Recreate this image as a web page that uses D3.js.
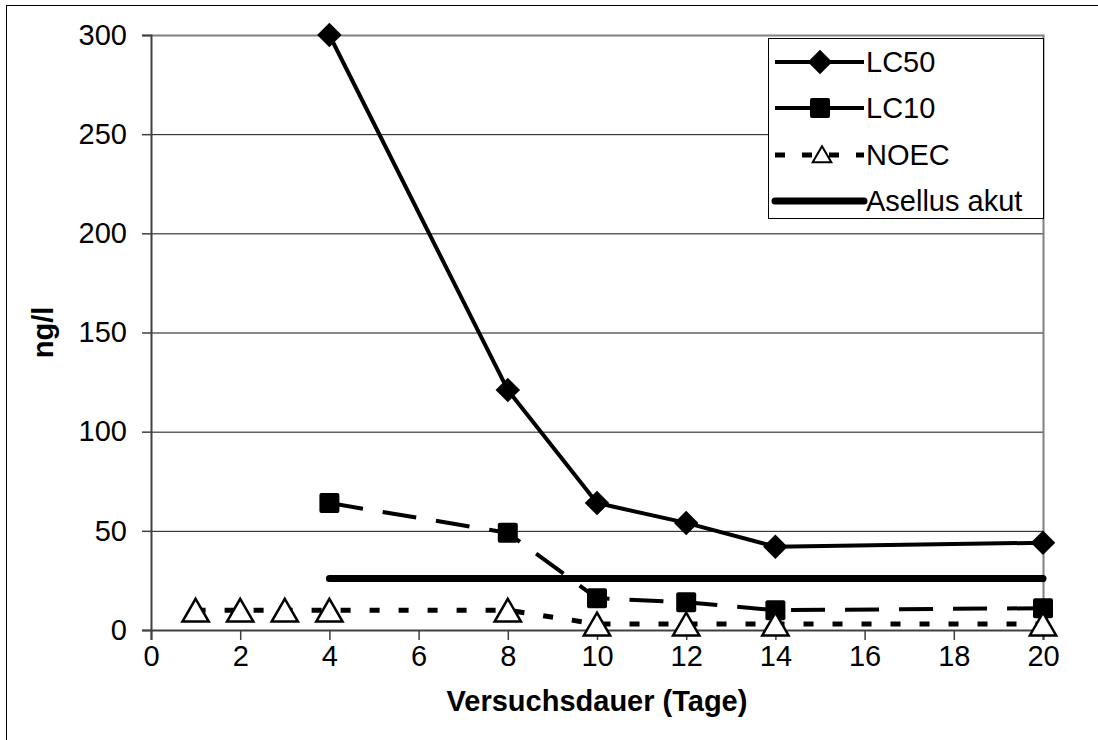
<!DOCTYPE html>
<html>
<head>
<meta charset="utf-8">
<script src="https://cdn.jsdelivr.net/npm/d3@7"></script>
<style>
  body { margin: 0; background: #fff; overflow: hidden; }
  text { font-family: "Liberation Sans", Arial, sans-serif; }
</style>
</head>
<body>
<div id="chart"></div>
<script>
// data
const lc50Days = [4, 8, 10, 12, 14, 20];
const lc50Values = [300, 121, 64, 54, 42, 44];
const lc10Days = [4, 8, 10, 12, 14, 20];
const lc10Values = [64, 49, 16, 14, 10, 11];
const noecDays = [1, 2, 3, 4, 8, 10, 12, 14, 20];
const noecValues = [10, 10, 10, 10, 10, 3, 3, 3, 3];
const asellusDays = [4, 20];
const asellusValues = [26, 26];
const xTicks = [0, 2, 4, 6, 8, 10, 12, 14, 16, 18, 20];
const yTicks = [0, 50, 100, 150, 200, 250, 300];

const width = 1098, height = 740;
const plot = {left: 151, right: 1043, top: 35, bottom: 630};
const fontSize = "29px";

const svg = d3.select("#chart")
  .append("svg")
    .attr("width", width)
    .attr("height", height);

// outer chart border (runs off the right and bottom edge)
svg.append("rect")
  .attr("x", 6.5).attr("y", 5.5)
  .attr("width", 1100).attr("height", 745)
  .attr("fill", "white").attr("stroke", "#000").attr("stroke-width", 1);

const x = d3.scaleLinear().domain([0, 20]).range([plot.left, plot.right]);
const y = d3.scaleLinear().domain([0, 300]).range([plot.bottom, plot.top]);

// gridlines
svg.append("g")
  .selectAll("line")
  .data(yTicks.filter(d => d > 0 && d < 300))
  .join("line")
    .attr("x1", plot.left).attr("x2", plot.right)
    .attr("y1", d => y(d) + 0.5).attr("y2", d => y(d) + 0.5)
    .attr("stroke", "#111").attr("stroke-width", 1);

// plot area border (grey)
svg.append("path")
  .attr("d", `M${plot.left},${plot.top + 0.5}H${plot.right + 0.5}V${plot.bottom}`)
  .attr("fill", "none").attr("stroke", "#808080").attr("stroke-width", 2);

// axes
const xAxis = svg.append("g")
  .attr("transform", `translate(0,${plot.bottom})`)
  .call(d3.axisBottom(x).tickValues(xTicks).tickSize(10).tickPadding(5).tickFormat(d3.format("d")));
const yAxis = svg.append("g")
  .attr("transform", `translate(${plot.left},0)`)
  .call(d3.axisLeft(y).tickValues(yTicks).tickSize(9).tickPadding(15).tickFormat(d3.format("d")));

[xAxis, yAxis].forEach(a => {
  a.select(".domain").attr("stroke", "#404040").attr("stroke-width", 2);
  a.selectAll(".tick line").attr("stroke", "#404040").attr("stroke-width", 1.5);
  a.selectAll(".tick text")
    .attr("fill", "#000")
    .style("font-size", fontSize)
    .style("font-family", "'Liberation Sans', Arial, sans-serif");
});

// axis titles
svg.append("text")
  .attr("x", (plot.left + plot.right) / 2).attr("y", 711)
  .attr("text-anchor", "middle")
  .style("font-size", fontSize).style("font-weight", "bold")
  .text("Versuchsdauer (Tage)");

svg.append("text")
  .attr("transform", `translate(53,${(plot.top + plot.bottom) / 2}) rotate(-90)`)
  .attr("text-anchor", "middle")
  .style("font-size", fontSize).style("font-weight", "bold")
  .text("ng/l");

const line = d3.line().x(d => x(d[0])).y(d => y(d[1]));
const zip = (a, b) => a.map((d, i) => [d, b[i]]);

const lc50 = zip(lc50Days, lc50Values);
const lc10 = zip(lc10Days, lc10Values);
const noec = zip(noecDays, noecValues);
const asellus = zip(asellusDays, asellusValues);

// series lines
svg.append("path").datum(lc50).attr("d", line)
  .attr("fill", "none").attr("stroke", "#000").attr("stroke-width", 4);
svg.append("path").datum(lc10).attr("d", line)
  .attr("fill", "none").attr("stroke", "#000").attr("stroke-width", 4)
  .attr("stroke-dasharray", "34,20");
svg.append("path").datum(noec).attr("d", line)
  .attr("fill", "none").attr("stroke", "#000").attr("stroke-width", 5)
  .attr("stroke-dasharray", "10,19");
svg.append("path").datum(asellus).attr("d", line)
  .attr("fill", "none").attr("stroke", "#000").attr("stroke-width", 7)
  .attr("stroke-linecap", "round");

// markers
const diamond = d3.symbol().type(d3.symbolSquare).size(300);
svg.append("g").selectAll("path").data(lc50).join("path")
  .attr("d", diamond)
  .attr("transform", d => `translate(${x(d[0])},${y(d[1])}) rotate(45)`)
  .attr("fill", "#000");

svg.append("g").selectAll("rect").data(lc10).join("rect")
  .attr("x", d => x(d[0]) - 10).attr("y", d => y(d[1]) - 10)
  .attr("width", 20).attr("height", 20).attr("rx", 2)
  .attr("fill", "#000");

const tri = d3.symbol().type(d3.symbolTriangle).size(300);
svg.append("g").selectAll("path").data(noec).join("path")
  .attr("d", tri)
  .attr("transform", d => `translate(${x(d[0])},${y(d[1]) + 3.8})`)
  .attr("fill", "#fff").attr("stroke", "#000").attr("stroke-width", 2.5);

// legend
const legend = svg.append("g");
legend.append("rect")
  .attr("x", 768.5).attr("y", 38.5).attr("width", 275).attr("height", 180)
  .attr("fill", "#fff").attr("stroke", "#000").attr("stroke-width", 1);

const rows = [
  {name: "LC50", y: 62, width: 4, dash: null, marker: "diamond"},
  {name: "LC10", y: 108, width: 4, dash: null, marker: "square"},
  {name: "NOEC", y: 155, width: 5, dash: "10,17", marker: "triangle"},
  {name: "Asellus akut", y: 201, width: 7, dash: null, marker: null}
];
rows.forEach(r => {
  const g = legend.append("g");
  g.append("line")
    .attr("x1", 775).attr("x2", 864).attr("y1", r.y).attr("y2", r.y)
    .attr("stroke", "#000").attr("stroke-width", r.width)
    .attr("stroke-dasharray", r.dash)
    .attr("stroke-linecap", r.marker ? "butt" : "round");
  if (r.marker === "diamond") {
    g.append("path").attr("d", diamond)
      .attr("transform", `translate(820,${r.y}) rotate(45)`).attr("fill", "#000");
  } else if (r.marker === "square") {
    g.append("rect").attr("x", 810).attr("y", r.y - 10)
      .attr("width", 20).attr("height", 20).attr("rx", 2).attr("fill", "#000");
  } else if (r.marker === "triangle") {
    g.append("path").attr("d", d3.symbol().type(d3.symbolTriangle).size(150))
      .attr("transform", `translate(822,${r.y + 2})`)
      .attr("fill", "#fff").attr("stroke", "#000").attr("stroke-width", 2);
  }
  g.append("text")
    .attr("x", 866).attr("y", r.y)
    .attr("dominant-baseline", "central")
    .style("font-size", fontSize)
    .text(r.name);
});
</script>
</body>
</html>
